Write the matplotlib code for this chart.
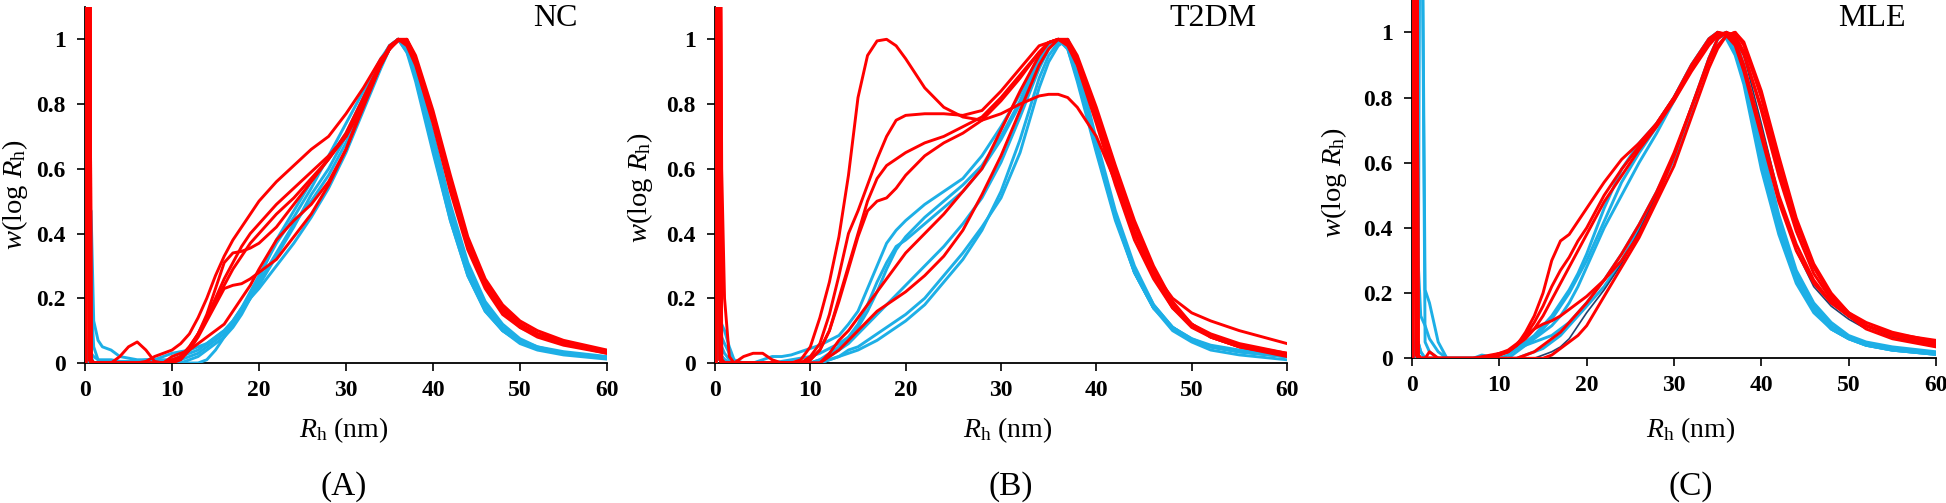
import numpy as np
import matplotlib
matplotlib.use("Agg")
import matplotlib.pyplot as plt

plt.rcParams['font.family'] = ['Liberation Serif', 'DejaVu Serif']
plt.rcParams['mathtext.fontset'] = 'custom'
plt.rcParams['mathtext.rm'] = 'Liberation Serif'
plt.rcParams['mathtext.it'] = 'Liberation Serif:italic'
plt.rcParams['mathtext.bf'] = 'Liberation Serif:bold'

# ---------------- data ----------------
X = [0.1, 0.3, 0.5, 0.7, 1, 1.5, 2,
     3, 4, 5, 6, 7, 8, 9, 10,
     11, 12, 13, 14, 15, 16, 17, 18, 19, 20,
     22, 24, 26, 28, 30, 32, 34,
     35, 36, 37, 38,
     40, 42, 44, 46, 48, 50, 52, 55, 60]

XTICKS = [0, 10, 20, 30, 40, 50, 60]
YTICKS = [0, 0.2, 0.4, 0.6, 0.8, 1.0]
YTICKLABELS = ["0", "0.2", "0.4", "0.6", "0.8", "1"]
PANEL_TITLES = ["NC", "T2DM", "MLE"]
PANEL_TAGS = ["(A)", "(B)", "(C)"]

# Panel A (NC)
nc_blue_1 = [0, 0, 0.05, 0.47, 0.13, 0.07, 0.05,
             0.04, 0.02, 0.015, 0.01, 0.01, 0.01, 0.01, 0.01,
             0.02, 0.03, 0.04, 0.06, 0.08, 0.10, 0.13, 0.17, 0.22, 0.27,
             0.37, 0.45, 0.54, 0.64, 0.74, 0.84, 0.94,
             0.98, 1.00, 0.96, 0.90,
             0.68, 0.46, 0.29, 0.17, 0.10, 0.065, 0.045, 0.03, 0.015]
nc_blue_2 = [0, 0, 0.05, 0.20, 0.05, 0.01, 0,
             0, 0, 0, 0, 0, 0, 0, 0,
             0.01, 0.02, 0.03, 0.05, 0.07, 0.09, 0.12, 0.16, 0.20, 0.24,
             0.33, 0.42, 0.52, 0.60, 0.70, 0.81, 0.93,
             0.98, 1.00, 0.97, 0.90,
             0.69, 0.47, 0.30, 0.18, 0.11, 0.07, 0.05, 0.03, 0.015]
nc_blue_3 = [0, 0, 0.10, 0.02, 0, 0, 0,
             0, 0, 0, 0, 0, 0, 0, 0,
             0, 0, 0, 0.01, 0.04, 0.08, 0.12, 0.16, 0.20, 0.23,
             0.30, 0.37, 0.45, 0.54, 0.65, 0.78, 0.91,
             0.97, 1.00, 0.97, 0.88,
             0.66, 0.44, 0.27, 0.16, 0.10, 0.06, 0.04, 0.025, 0.012]
nc_blue_4 = [0, 0, 0.05, 0.01, 0, 0, 0,
             0, 0, 0, 0, 0, 0, 0, 0,
             0, 0.01, 0.02, 0.04, 0.06, 0.08, 0.11, 0.15, 0.20, 0.26,
             0.38, 0.47, 0.56, 0.63, 0.71, 0.82, 0.93,
             0.98, 1.00, 0.96, 0.87,
             0.65, 0.44, 0.27, 0.16, 0.10, 0.065, 0.045, 0.03, 0.015]
nc_blue_5 = [0, 0, 0.08, 0.03, 0.02, 0.01, 0.01,
             0.01, 0.005, 0.005, 0.005, 0.01, 0.01, 0.02, 0.03,
             0.035, 0.04, 0.05, 0.06, 0.08, 0.10, 0.13, 0.17, 0.21, 0.25,
             0.34, 0.43, 0.50, 0.58, 0.68, 0.80, 0.92,
             0.97, 1.00, 0.98, 0.91,
             0.71, 0.49, 0.31, 0.19, 0.12, 0.075, 0.05, 0.035, 0.02]

nc_red_1 = [0, 2, 2, 0.01, 0, 0, 0,
            0, 0, 0, 0, 0.005, 0.02, 0.03, 0.04,
            0.06, 0.09, 0.14, 0.20, 0.27, 0.33, 0.38, 0.42, 0.46, 0.50,
            0.56, 0.61, 0.66, 0.70, 0.77, 0.85, 0.94,
            0.97, 1.00, 1.00, 0.95,
            0.78, 0.58, 0.39, 0.26, 0.18, 0.13, 0.10, 0.07, 0.04]
nc_red_2 = [2, 2, 0.01, 0, 0, 0, 0,
            0, 0, 0, 0, 0, 0, 0, 0,
            0.01, 0.04, 0.09, 0.15, 0.23, 0.31, 0.34, 0.345, 0.355, 0.37,
            0.42, 0.49, 0.56, 0.63, 0.71, 0.82, 0.93,
            0.97, 0.995, 1.00, 0.94,
            0.76, 0.56, 0.37, 0.25, 0.17, 0.12, 0.09, 0.065, 0.035]
nc_red_3 = [0, 2, 2, 0.01, 0, 0, 0,
            0, 0, 0, 0, 0, 0, 0, 0.01,
            0.02, 0.05, 0.09, 0.14, 0.20, 0.26, 0.31, 0.36, 0.40, 0.43,
            0.49, 0.54, 0.59, 0.64, 0.70, 0.80, 0.92,
            0.97, 1.00, 0.99, 0.93,
            0.75, 0.55, 0.37, 0.25, 0.17, 0.12, 0.09, 0.065, 0.035]
nc_red_4 = [2, 2, 0.01, 0, 0, 0, 0,
            0, 0, 0, 0, 0, 0, 0, 0,
            0.02, 0.04, 0.08, 0.13, 0.18, 0.23, 0.24, 0.245, 0.26, 0.28,
            0.32, 0.39, 0.46, 0.55, 0.66, 0.79, 0.92,
            0.97, 1.00, 0.99, 0.93,
            0.75, 0.54, 0.36, 0.24, 0.16, 0.11, 0.085, 0.06, 0.03]
nc_red_5 = [0, 2, 2, 0.01, 0, 0, 0,
            0, 0, 0, 0, 0, 0, 0, 0.02,
            0.03, 0.04, 0.06, 0.08, 0.10, 0.12, 0.16, 0.20, 0.24, 0.29,
            0.38, 0.44, 0.49, 0.56, 0.66, 0.80, 0.93,
            0.98, 1.00, 0.98, 0.92,
            0.74, 0.53, 0.35, 0.23, 0.15, 0.11, 0.08, 0.055, 0.03]
nc_red_6 = [0, 2, 2, 0.01, 0, 0, 0,
            0, 0.02, 0.05, 0.065, 0.04, 0.005, 0, 0,
            0.02, 0.05, 0.09, 0.14, 0.19, 0.24, 0.29, 0.33, 0.37, 0.40,
            0.46, 0.51, 0.57, 0.63, 0.70, 0.80, 0.92,
            0.97, 1.00, 0.99, 0.93,
            0.75, 0.55, 0.37, 0.25, 0.17, 0.12, 0.09, 0.065, 0.035]

# Panel B (T2DM)
t2_blue_1 = [0, 0.30, 0.05, 0.12, 0.10, 0.05, 0.01,
             0, 0, 0.01, 0.02, 0.02, 0.025, 0.035, 0.045,
             0.055, 0.07, 0.085, 0.12, 0.16, 0.23, 0.30, 0.37, 0.41, 0.44,
             0.49, 0.53, 0.57, 0.64, 0.73, 0.83, 0.95,
             0.98, 1.00, 0.97, 0.87,
             0.65, 0.44, 0.28, 0.17, 0.11, 0.07, 0.05, 0.035, 0.02]
t2_blue_2 = [0, 0.15, 0.05, 0.08, 0.06, 0.03, 0.005,
             0, 0, 0, 0, 0.005, 0.01, 0.015, 0.02,
             0.03, 0.045, 0.06, 0.08, 0.11, 0.16, 0.22, 0.29, 0.35, 0.39,
             0.45, 0.50, 0.55, 0.61, 0.70, 0.81, 0.94,
             0.98, 1.00, 0.97, 0.88,
             0.66, 0.45, 0.28, 0.17, 0.11, 0.07, 0.05, 0.035, 0.02]
t2_blue_3 = [0, 0.10, 0.02, 0.05, 0.03, 0.01, 0,
             0, 0, 0, 0, 0, 0, 0, 0,
             0.01, 0.03, 0.05, 0.08, 0.12, 0.18, 0.25, 0.31, 0.36, 0.38,
             0.43, 0.48, 0.53, 0.60, 0.69, 0.80, 0.93,
             0.98, 1.00, 0.98, 0.89,
             0.67, 0.46, 0.29, 0.18, 0.11, 0.075, 0.055, 0.04, 0.025]
t2_blue_4 = [0, 0.05, 0.01, 0.02, 0.01, 0, 0,
             0, 0, 0, 0, 0, 0, 0, 0,
             0, 0.01, 0.02, 0.03, 0.04, 0.055, 0.07, 0.09, 0.11, 0.13,
             0.18, 0.25, 0.32, 0.41, 0.53, 0.69, 0.88,
             0.95, 0.99, 1.00, 0.92,
             0.68, 0.46, 0.28, 0.17, 0.10, 0.065, 0.04, 0.025, 0.01]
t2_blue_5 = [0, 0.05, 0.01, 0.02, 0.01, 0, 0,
             0, 0, 0, 0, 0, 0, 0, 0,
             0, 0.01, 0.02, 0.04, 0.05, 0.07, 0.09, 0.11, 0.13, 0.15,
             0.20, 0.27, 0.34, 0.42, 0.51, 0.65, 0.85,
             0.93, 0.98, 1.00, 0.93,
             0.69, 0.47, 0.30, 0.18, 0.11, 0.075, 0.05, 0.035, 0.02]
t2_blue_6 = [0, 0.05, 0.01, 0.02, 0.01, 0, 0,
             0, 0, 0, 0, 0, 0, 0, 0,
             0.01, 0.02, 0.04, 0.06, 0.09, 0.12, 0.15, 0.18, 0.21, 0.24,
             0.30, 0.36, 0.43, 0.51, 0.62, 0.76, 0.91,
             0.97, 1.00, 0.98, 0.89,
             0.66, 0.45, 0.28, 0.17, 0.11, 0.07, 0.05, 0.035, 0.02]

t2_red_1 = [0, 2, 2, 0.01, 0, 0, 0,
            0, 0, 0, 0, 0, 0, 0.01, 0.05,
            0.14, 0.25, 0.39, 0.58, 0.82, 0.95, 0.995, 1.00, 0.98, 0.94,
            0.85, 0.79, 0.76, 0.75, 0.77, 0.80, 0.825,
            0.83, 0.83, 0.82, 0.79,
            0.70, 0.56, 0.40, 0.28, 0.20, 0.155, 0.13, 0.10, 0.06]
t2_red_2 = [0, 2, 2, 0.60, 0.20, 0.02, 0,
            0.02, 0.03, 0.03, 0.01, 0, 0, 0, 0.02,
            0.06, 0.15, 0.27, 0.40, 0.47, 0.55, 0.63, 0.70, 0.75, 0.765,
            0.77, 0.77, 0.765, 0.78, 0.84, 0.91, 0.98,
            0.99, 1.00, 0.98, 0.92,
            0.74, 0.55, 0.38, 0.26, 0.17, 0.12, 0.09, 0.06, 0.03]
t2_red_3 = [2, 2, 0.01, 0, 0, 0, 0,
            0, 0, 0, 0, 0, 0, 0, 0.01,
            0.04, 0.10, 0.20, 0.30, 0.40, 0.50, 0.57, 0.61, 0.63, 0.65,
            0.68, 0.70, 0.73, 0.76, 0.82, 0.89, 0.96,
            0.99, 1.00, 0.99, 0.93,
            0.76, 0.57, 0.40, 0.27, 0.17, 0.11, 0.08, 0.05, 0.025]
t2_red_4 = [0, 2, 2, 0.01, 0, 0, 0,
            0, 0, 0, 0, 0, 0, 0, 0.01,
            0.04, 0.10, 0.19, 0.29, 0.39, 0.47, 0.50, 0.51, 0.54, 0.58,
            0.64, 0.68, 0.71, 0.75, 0.81, 0.88, 0.96,
            0.99, 1.00, 0.99, 0.94,
            0.78, 0.60, 0.43, 0.29, 0.18, 0.12, 0.085, 0.055, 0.03]
t2_red_5 = [2, 2, 0.01, 0, 0, 0, 0,
            0, 0, 0, 0, 0, 0, 0, 0,
            0, 0.03, 0.07, 0.10, 0.14, 0.18, 0.22, 0.26, 0.30, 0.34,
            0.40, 0.46, 0.53, 0.60, 0.72, 0.84, 0.95,
            0.99, 1.00, 0.99, 0.94,
            0.77, 0.58, 0.41, 0.28, 0.18, 0.12, 0.08, 0.05, 0.025]
t2_red_6 = [0, 2, 2, 0.01, 0, 0, 0,
            0, 0, 0, 0, 0, 0, 0, 0,
            0, 0.02, 0.04, 0.07, 0.10, 0.13, 0.16, 0.18, 0.20, 0.22,
            0.27, 0.33, 0.41, 0.52, 0.64, 0.78, 0.92,
            0.97, 1.00, 1.00, 0.95,
            0.79, 0.61, 0.44, 0.30, 0.19, 0.12, 0.08, 0.05, 0.02]

# Panel C (MLE)
mle_blue_1 = [0, 0, 0.10, 2, 2, 0.21, 0.17,
              0.05, 0, 0, 0, 0, 0.01, 0.005, 0.015,
              0.02, 0.035, 0.05, 0.07, 0.10, 0.13, 0.17, 0.21, 0.26, 0.32,
              0.46, 0.58, 0.66, 0.72, 0.80, 0.90, 0.98,
              1.00, 0.98, 0.93, 0.84,
              0.58, 0.38, 0.23, 0.14, 0.09, 0.06, 0.04, 0.025, 0.012]
mle_blue_2 = [0, 0, 0, 0.30, 0.13, 0.10, 0.06,
              0.02, 0, 0, 0, 0, 0, 0, 0,
              0.01, 0.03, 0.045, 0.065, 0.09, 0.12, 0.16, 0.20, 0.25, 0.30,
              0.42, 0.54, 0.63, 0.71, 0.80, 0.90, 0.98,
              1.00, 0.99, 0.94, 0.86,
              0.60, 0.40, 0.24, 0.15, 0.09, 0.06, 0.04, 0.025, 0.012]
mle_blue_3 = [0, 0, 0, 0.10, 2, 0.05, 0.02,
              0, 0, 0, 0, 0, 0, 0, 0,
              0, 0.02, 0.04, 0.06, 0.08, 0.10, 0.13, 0.17, 0.22, 0.28,
              0.40, 0.50, 0.60, 0.69, 0.79, 0.89, 0.97,
              0.99, 1.00, 0.95, 0.87,
              0.62, 0.41, 0.25, 0.15, 0.09, 0.06, 0.04, 0.025, 0.012]
mle_blue_4 = [0, 0, 0, 0.05, 0.02, 0, 0,
              0, 0, 0, 0, 0, 0, 0, 0,
              0, 0, 0.01, 0.02, 0.03, 0.05, 0.07, 0.10, 0.13, 0.16,
              0.22, 0.30, 0.40, 0.50, 0.61, 0.76, 0.92,
              0.98, 1.00, 0.97, 0.88,
              0.64, 0.42, 0.26, 0.16, 0.10, 0.065, 0.045, 0.03, 0.015]
mle_blue_5 = [0, 0, 0, 0.05, 0.02, 0, 0,
              0, 0, 0, 0, 0, 0, 0, 0.01,
              0.02, 0.03, 0.04, 0.05, 0.06, 0.07, 0.09, 0.11, 0.14, 0.17,
              0.24, 0.32, 0.41, 0.51, 0.62, 0.77, 0.92,
              0.98, 1.00, 0.98, 0.90,
              0.66, 0.44, 0.27, 0.17, 0.11, 0.07, 0.05, 0.035, 0.02]
nan = float("nan")
mle_navy = [nan, nan, nan, nan, nan, nan, nan,
            nan, nan, nan, nan, nan, nan, nan, nan,
            nan, nan, nan, 0, 0.01, 0.02, 0.035, 0.06, 0.10, 0.14,
            0.21, 0.29, 0.39, 0.50, 0.62, 0.77, 0.92,
            0.98, 1.00, 0.99, 0.93,
            0.72, 0.50, 0.33, 0.22, 0.16, 0.12, 0.09, 0.065, 0.04]

mle_red_1 = [0, 2, 2, 0.01, 0, 0, 0,
             0, 0, 0, 0, 0, 0.005, 0.01, 0.015,
             0.02, 0.04, 0.08, 0.13, 0.20, 0.30, 0.36, 0.38, 0.42, 0.46,
             0.54, 0.61, 0.66, 0.72, 0.80, 0.90, 0.98,
             1.00, 0.99, 0.96, 0.88,
             0.68, 0.48, 0.33, 0.23, 0.17, 0.13, 0.10, 0.075, 0.055]
mle_red_2 = [2, 2, 0.01, 0, 0, 0, 0.02,
             0, 0, 0, 0, 0, 0, 0, 0.01,
             0.02, 0.04, 0.07, 0.11, 0.16, 0.22, 0.27, 0.31, 0.36, 0.40,
             0.50, 0.58, 0.65, 0.72, 0.80, 0.89, 0.97,
             1.00, 0.995, 0.97, 0.90,
             0.70, 0.50, 0.35, 0.24, 0.17, 0.13, 0.10, 0.07, 0.045]
mle_red_3 = [0, 2, 2, 0.01, 0, 0, 0,
             0, 0, 0, 0, 0, 0, 0.005, 0.015,
             0.025, 0.045, 0.07, 0.09, 0.105, 0.115, 0.13, 0.15, 0.17, 0.19,
             0.24, 0.30, 0.38, 0.49, 0.62, 0.77, 0.92,
             0.98, 1.00, 0.99, 0.94,
             0.76, 0.56, 0.39, 0.26, 0.18, 0.13, 0.10, 0.07, 0.045]
mle_red_4 = [2, 2, 0.01, 0, 0, 0, 0,
             0, 0, 0, 0, 0, 0, 0, 0,
             0, 0, 0, 0, 0, 0.01, 0.03, 0.05, 0.07, 0.10,
             0.19, 0.28, 0.37, 0.48, 0.59, 0.74, 0.89,
             0.95, 0.99, 1.00, 0.96,
             0.80, 0.60, 0.42, 0.28, 0.19, 0.13, 0.09, 0.06, 0.035]
mle_red_5 = [0, 2, 2, 0.01, 0, 0, 0,
             0, 0, 0, 0, 0, 0, 0, 0.01,
             0.02, 0.04, 0.06, 0.09, 0.13, 0.18, 0.23, 0.28, 0.33, 0.38,
             0.48, 0.56, 0.64, 0.71, 0.79, 0.88, 0.96,
             0.99, 1.00, 0.98, 0.93,
             0.77, 0.58, 0.41, 0.28, 0.19, 0.14, 0.11, 0.08, 0.05]
mle_red_6 = [0, 2, 2, 0.01, 0, 0, 0,
             0, 0, 0, 0, 0, 0, 0, 0,
             0, 0, 0.01, 0.02, 0.04, 0.06, 0.08, 0.11, 0.14, 0.17,
             0.24, 0.32, 0.41, 0.51, 0.63, 0.77, 0.91,
             0.96, 0.99, 1.00, 0.97,
             0.82, 0.62, 0.43, 0.29, 0.20, 0.14, 0.10, 0.07, 0.04]

PANELS = [
    dict(blue=[nc_blue_1, nc_blue_2, nc_blue_3, nc_blue_4, nc_blue_5],
         navy=[],
         red=[nc_red_1, nc_red_2, nc_red_3, nc_red_4, nc_red_5, nc_red_6]),
    dict(blue=[t2_blue_1, t2_blue_2, t2_blue_3, t2_blue_4, t2_blue_5, t2_blue_6],
         navy=[],
         red=[t2_red_1, t2_red_2, t2_red_3, t2_red_4, t2_red_5, t2_red_6]),
    dict(blue=[mle_blue_1, mle_blue_2, mle_blue_3, mle_blue_4, mle_blue_5],
         navy=[mle_navy],
         red=[mle_red_1, mle_red_2, mle_red_3, mle_red_4, mle_red_5, mle_red_6]),
]

# ---------------- layout ----------------
W, H = 1946, 503
BLUE = "#1DAFE6"
RED = "#FF0000"
NAVY = "#23406E"

fig = plt.figure(figsize=(W / 100, H / 100), dpi=100)

# (x px at 0, x px at 60, y px at 0, y px at 1)
AX_PX = [(85, 607, 363, 39.3), (715, 1287, 363, 39.3), (1412, 1936, 358.3, 32.3)]
YLAB_PX = [(15, 195), (640, 188), (1334, 183)]
XLAB_PX = [(344, 430), (1008, 430), (1691, 430)]
TAG_PX = [(344, 487), (1011, 487), (1691, 487)]
TITLE_PX = [(555, 18), (1213, 18), (1872, 19)]

for i, panel in enumerate(PANELS):
    x0, x60, y0, y1 = AX_PX[i]
    per = y0 - y1
    top = y0 - 1.1 * per
    ax = fig.add_axes([x0 / W, (H - y0) / H, (x60 - x0) / W, (y0 - top) / H])
    for ys in panel["blue"]:
        assert len(ys) == len(X)
        ax.plot(X, ys, color=BLUE, lw=2.1, solid_joinstyle="round")
    for ys in panel["navy"]:
        assert len(ys) == len(X)
        ax.plot(X, ys, color=NAVY, lw=1.2)
    for ys in panel["red"]:
        assert len(ys) == len(X)
        ax.plot(X, ys, color=RED, lw=2.1, solid_joinstyle="round")
    ax.set_xlim(0, 60)
    ax.set_ylim(0, 1.1)
    ax.set_xticks(XTICKS, [str(t) for t in XTICKS], fontweight="bold")
    ax.set_yticks(YTICKS, YTICKLABELS, fontweight="bold")
    ax.tick_params(direction="out", length=6, width=1.2, labelsize=17, pad=6,
                   colors="black")
    ax.tick_params(axis="y", pad=8)
    for s in ["top", "right"]:
        ax.spines[s].set_visible(False)
    for s in ["left", "bottom"]:
        ax.spines[s].set_linewidth(1.3)
        ax.spines[s].set_zorder(0.5)

    fig.text(YLAB_PX[i][0] / W, 1 - YLAB_PX[i][1] / H,
             r"$w$(log $R_{\mathrm{h}}$)", rotation=90,
             ha="center", va="center", fontsize=20.5)
    fig.text(XLAB_PX[i][0] / W, 1 - XLAB_PX[i][1] / H,
             r"$R_{\mathrm{h}}$ (nm)", ha="center", va="center", fontsize=20)
    fig.text(TAG_PX[i][0] / W, 1 - TAG_PX[i][1] / H, PANEL_TAGS[i],
             ha="center", va="center", fontsize=24)
    fig.text(TITLE_PX[i][0] / W, 1 - TITLE_PX[i][1] / H, PANEL_TITLES[i],
             ha="center", va="center", fontsize=23)

fig.savefig("out.png", dpi=100, facecolor="white")
